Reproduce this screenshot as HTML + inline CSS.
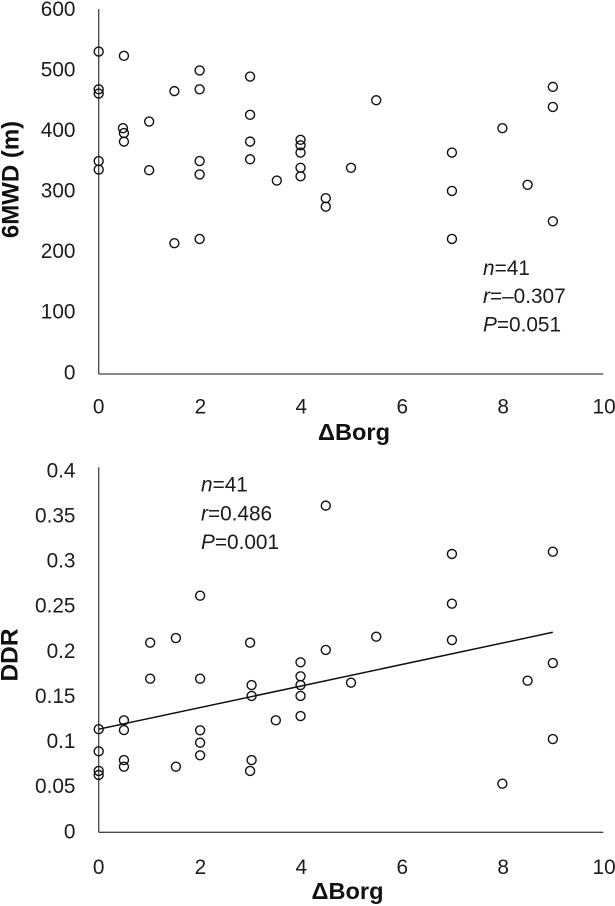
<!DOCTYPE html>
<html lang="en">
<head>
<meta charset="utf-8">
<title>6MWD and DDR versus ΔBorg</title>
<style>
html,body{margin:0;padding:0;background:#fff;}
svg{display:block;font-family:"Liberation Sans",Arial,sans-serif;}
.tick{font-size:20.8px;fill:#1c1c1c;}
.title{font-size:23px;font-weight:bold;fill:#111;}
.ytitle{font-size:24px;font-weight:bold;fill:#111;}
.note{font-size:20.8px;fill:#1c1c1c;}
.note tspan.i{font-style:italic;}
</style>
</head>
<body>
<svg id="figure" width="615" height="906" viewBox="0 0 615 906" xmlns="http://www.w3.org/2000/svg">
  <g id="top-chart"></g>
  <g id="bottom-chart"></g>

  <text class="title" x="354" y="440" text-anchor="middle" textLength="72" lengthAdjust="spacingAndGlyphs">ΔBorg</text>
  <text class="ytitle" transform="translate(18.5,179.5) rotate(-90)" text-anchor="middle">6MWD (m)</text>
  <text class="title" x="347.5" y="899" text-anchor="middle" textLength="72" lengthAdjust="spacingAndGlyphs">ΔBorg</text>
  <text class="ytitle" transform="translate(17.5,655) rotate(-90)" text-anchor="middle" textLength="53" lengthAdjust="spacingAndGlyphs">DDR</text>

  <g>
    <text class="note" x="483" y="275"><tspan class="i">n</tspan>=41</text>
    <text class="note" x="483" y="303"><tspan class="i">r</tspan>=–0.307</text>
    <text class="note" x="483" y="331.5"><tspan class="i">P</tspan>=0.051</text>
  </g>
  <g>
    <text class="note" x="201" y="491.5"><tspan class="i">n</tspan>=41</text>
    <text class="note" x="201" y="520.5"><tspan class="i">r</tspan>=0.486</text>
    <text class="note" x="201" y="549"><tspan class="i">P</tspan>=0.001</text>
  </g>
</svg>
<script>
var xTicks = [0, 2, 4, 6, 8, 10];
var walkTicks = [0, 100, 200, 300, 400, 500, 600];
var ddrTicks = [0, 0.05, 0.1, 0.15, 0.2, 0.25, 0.3, 0.35, 0.4];

var walkBorg = [0, 0, 0, 0, 0,
  0.5, 0.48, 0.5, 0.5,
  1, 1,
  1.5, 1.5,
  2, 2, 2, 2, 2,
  3, 3, 3, 3,
  3.53,
  4, 4, 4, 4, 4,
  4.5, 4.5,
  5,
  5.5,
  7, 7, 7,
  8,
  8.5,
  9, 9, 9];
var walkDistance = [530, 468, 461, 350, 336,
  523, 404, 396, 382,
  415, 335,
  465, 215,
  499, 468, 350, 328, 222,
  489, 426, 382, 353,
  318,
  385, 376, 364, 339, 325,
  289, 275,
  339,
  450,
  364, 301, 222,
  404,
  311,
  472, 439, 251];

var ddrBorg = [0, 0, 0, 0,
  0.5, 0.5, 0.5, 0.5,
  1.02, 1.02,
  1.53, 1.53,
  2.01, 2.01, 2.01, 2.01, 2.01,
  3, 3.03, 3.03, 3.03, 3,
  3.51,
  4, 4, 4, 4, 4,
  4.5, 4.5,
  5,
  5.5,
  7, 7, 7,
  8,
  8.5,
  9, 9, 9];
var ddrValue = [0.113, 0.0887, 0.0672, 0.0628,
  0.1227, 0.112, 0.0792, 0.0719,
  0.2078, 0.1683,
  0.2129, 0.0719,
  0.2593, 0.1683, 0.1118, 0.0982, 0.0844,
  0.2078, 0.1614, 0.1494, 0.0792, 0.0672,
  0.1227,
  0.1863, 0.171, 0.1614, 0.1494, 0.1274,
  0.358, 0.1998,
  0.164,
  0.2144,
  0.305, 0.2505, 0.2107,
  0.0533,
  0.1662,
  0.3075, 0.1855, 0.1022];

var trendBorg = [0, 9];
var trendDdr = [0.113, 0.2192];

var NS = 'http://www.w3.org/2000/svg';

function linear(d0, d1, r0, r1) {
  return function (v) { return r0 + (v - d0) / (d1 - d0) * (r1 - r0); };
}

function makeNode(parent, tag, attrs) {
  var el = document.createElementNS(NS, tag);
  for (var k in attrs) { el.setAttribute(k, attrs[k]); }
  parent.appendChild(el);
  return el;
}

function drawChart(host, cfg) {
  var sx = linear(0, 10, 98.7, 603.3);
  var sy = linear(cfg.yMin, cfg.yMax, cfg.bottom, cfg.top);
  var ly = linear(cfg.yMin, cfg.yMax, cfg.labelBottom, cfg.labelTop);

  var yAxis = makeNode(host, 'line', {x1: sx(0), x2: sx(0), y1: sy(cfg.yMax), y2: sy(cfg.yMin), stroke: '#444', 'stroke-width': 1.3});
  
  

  var xAxis = makeNode(host, 'line', {x1: sx(0), x2: sx(10), y1: sy(cfg.yMin), y2: sy(cfg.yMin), stroke: '#444', 'stroke-width': 1.3});
  
  

  cfg.yTicks.forEach(function (t) {
    var label = makeNode(host, 'text', {'class': 'tick', x: 75.5, y: ly(t) + 7.3, 'text-anchor': 'end'});
    label.textContent = String(t);
    
    
  });

  xTicks.forEach(function (t) {
    var label = makeNode(host, 'text', {'class': 'tick', x: sx(t) + (t === 0 ? 0 : 0.8), y: cfg.xLabelY, 'text-anchor': 'middle'});
    label.textContent = String(t);
    
    
  });

  if (cfg.trendX) {
    var trend = makeNode(host, 'line', {x1: sx(cfg.trendX[0]), y1: sy(cfg.trendY[0]), x2: sx(cfg.trendX[1]), y2: sy(cfg.trendY[1]), stroke: '#111', 'stroke-width': 1.5});
    
    
  }

  cfg.xs.forEach(function (x, i) {
    var point = makeNode(host, 'circle', {cx: sx(x), cy: sy(cfg.ys[i]), r: 4.5, fill: 'none', stroke: '#111', 'stroke-width': 1.4});
    
    
  });
}

drawChart(document.getElementById('top-chart'), {
  yMin: 0, yMax: 600, bottom: 374, top: 9,
  labelBottom: 372, labelTop: 8.5,
  xLabelY: 413.5,
  yTicks: walkTicks,
  xs: walkBorg, ys: walkDistance
});

drawChart(document.getElementById('bottom-chart'), {
  yMin: 0, yMax: 0.4, bottom: 832.3, top: 467.3,
  labelBottom: 831, labelTop: 470,
  xLabelY: 874,
  yTicks: ddrTicks,
  xs: ddrBorg, ys: ddrValue,
  trendX: trendBorg, trendY: trendDdr
});
</script>
</body>
</html>
